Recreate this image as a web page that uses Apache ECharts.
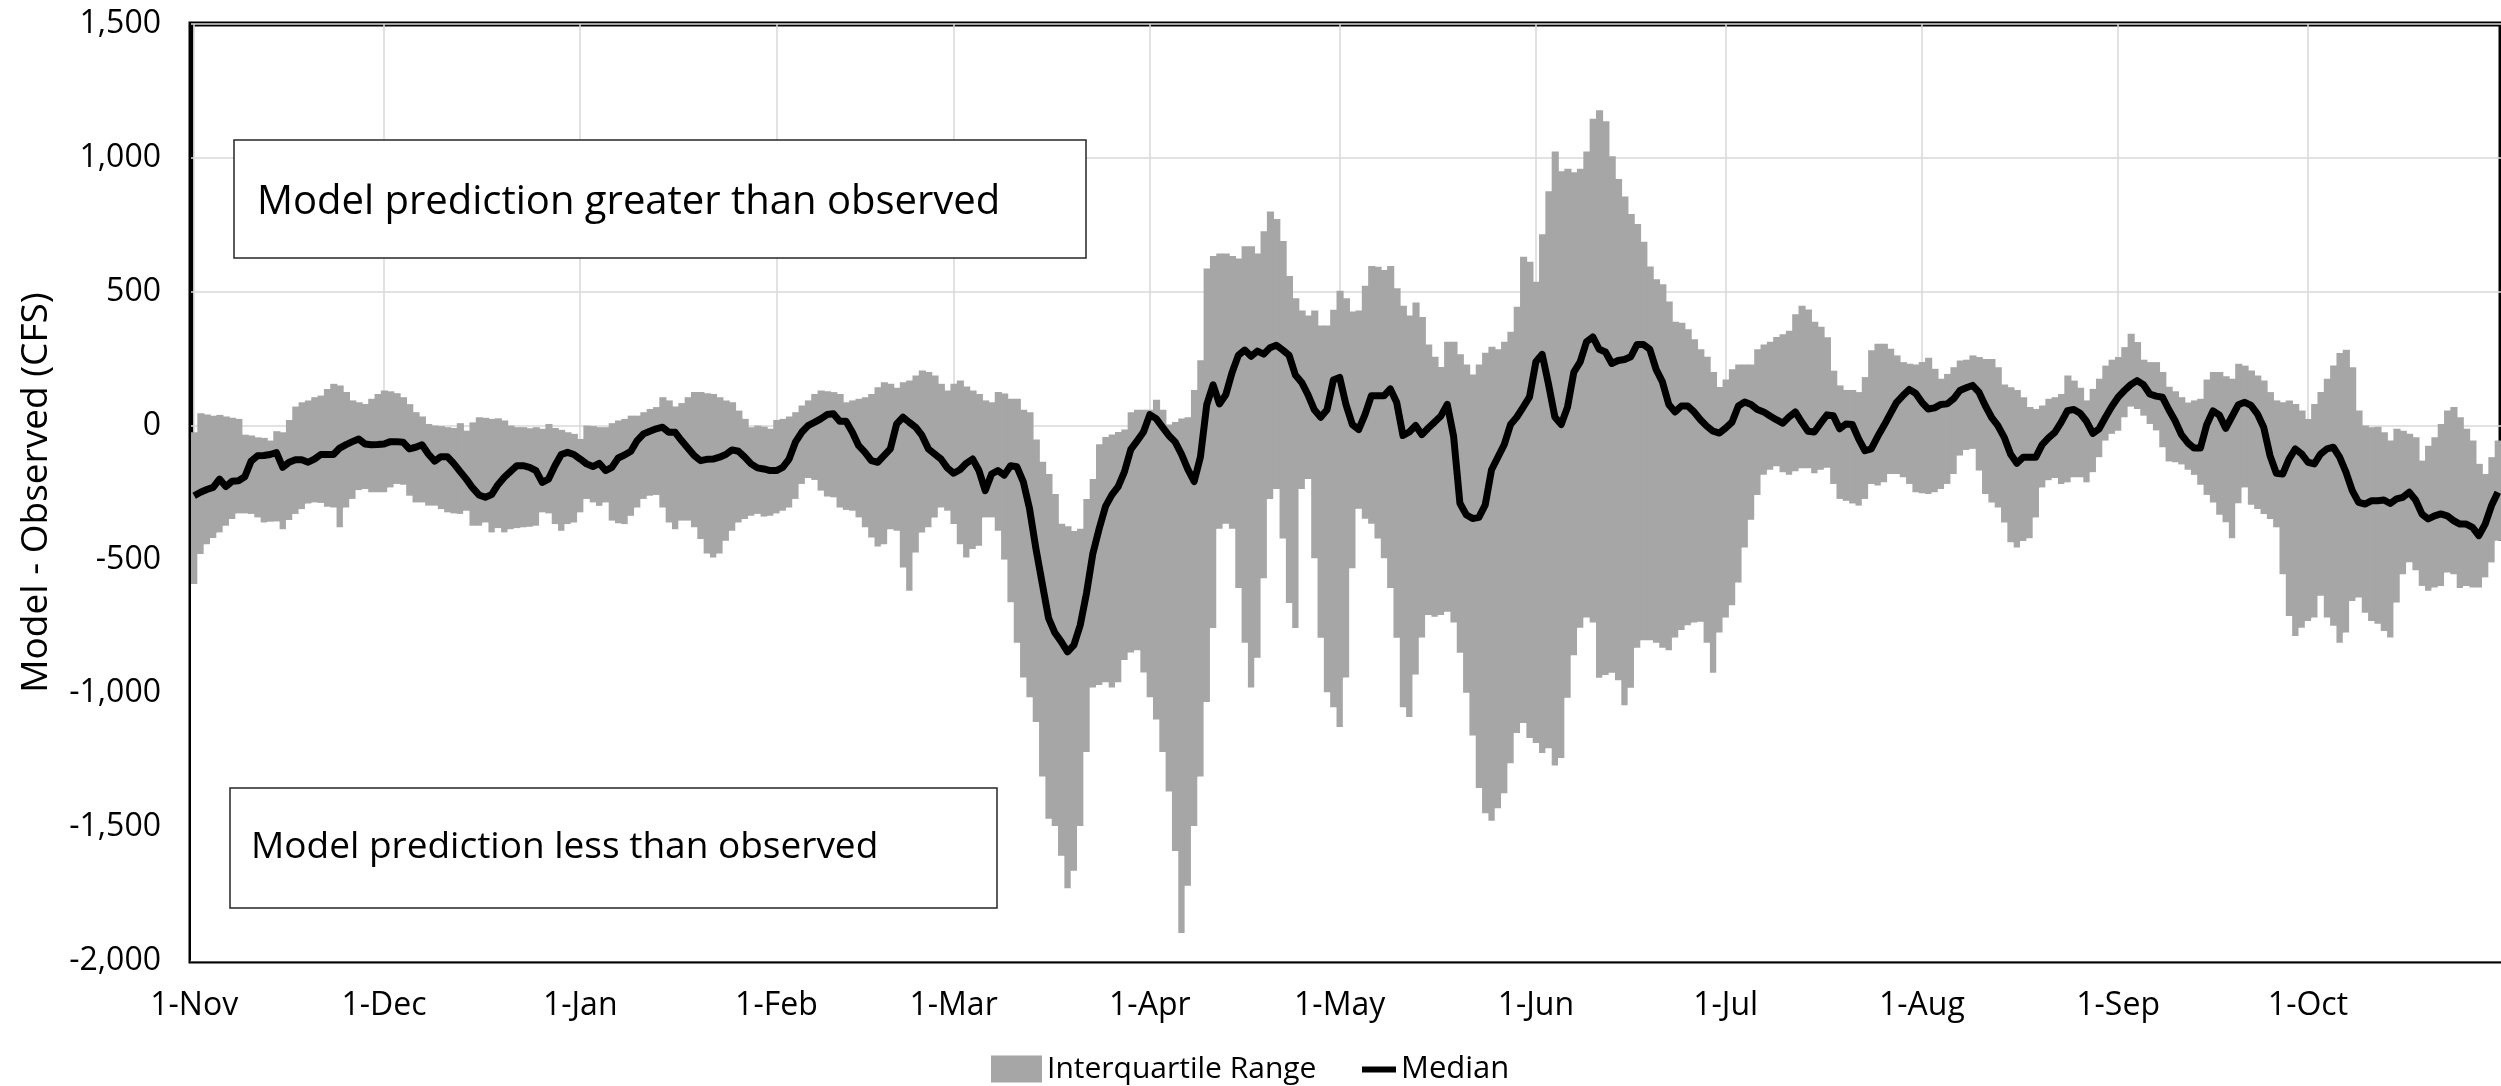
<!DOCTYPE html>
<html>
<head>
<meta charset="utf-8">
<script src="https://cdn.jsdelivr.net/npm/echarts@6/dist/echarts.min.js"></script>
<style>
html,body{margin:0;padding:0;background:#fff;}
#chart{width:2501px;height:1086px;}
</style>
</head>
<body>
<div id="chart"></div>
<script>
// ---- categories ----
const monthNames = ['Nov','Dec','Jan','Feb','Mar','Apr','May','Jun','Jul','Aug','Sep','Oct'];
const monthLengths = [30,31,31,28,31,30,31,30,31,31,30,31];
const dayLabels = [];
monthNames.forEach(function (m, k) {
  for (let d = 1; d <= monthLengths[k]; d++) dayLabels.push(d + '-' + m);
});

// ---- series values (CFS), one per day from 1-Nov to 31-Oct ----
const upperQuartile = [
  -25, 46, 41, 37, 40, 34, 29, 25, -34, -37,
  -44, -46, -56, -21, -25, 21, 71, 87, 94, 106,
  112, 137, 156, 150, 125, 94, 87, 81, 100, 118,
  131, 128, 121, 106, 80, 50, 34, 6, 0, -2,
  -6, -9, 9, -19, 12, 31, 29, 25, 27, 19,
  0, -6, -6, -10, -6, -12, 6, -9, -16, -25,
  -31, -50, 0, -2, -6, -6, 9, 19, 25, 37,
  37, 50, 62, 69, 106, 94, 71, 84, 106, 125,
  125, 121, 118, 106, 94, 87, 56, 25, -6, 0,
  -4, -12, 21, 25, 34, 50, 75, 94, 118, 131,
  128, 125, 118, 87, 94, 100, 106, 118, 143, 162,
  156, 141, 162, 168, 187, 206, 200, 187, 156, 131,
  156, 168, 146, 131, 118, 94, 87, 125, 120, 100,
  100, 59, 50, -52, -135, -181, -256, -367, -376, -394,
  -385, -274, -200, -70, -43, -33, -24, -15, 50, 59,
  59, 59, 96, 59, 4, 13, 26, 31, 133, 244,
  587, 633, 643, 643, 633, 624, 670, 670, 643, 726,
  800, 772, 689, 559, 476, 430, 411, 430, 374, 374,
  433, 504, 476, 426, 430, 522, 596, 593, 581, 596,
  513, 448, 411, 460, 406, 303, 257, 219, 313, 313,
  266, 228, 191, 228, 272, 294, 285, 313, 350, 444,
  631, 612, 537, 715, 875, 1024, 950, 959, 946, 959,
  1024, 1146, 1178, 1137, 1006, 921, 856, 790, 753, 687,
  594, 547, 528, 463, 388, 384, 360, 322, 285, 257,
  200, 144, 172, 210, 228, 228, 228, 285, 303, 313,
  331, 341, 354, 416, 448, 434, 388, 369, 330, 205,
  150, 133, 133, 125, 181, 281, 306, 306, 287, 262,
  237, 231, 228, 237, 253, 212, 175, 193, 218, 243,
  246, 262, 256, 249, 249, 218, 153, 143, 133, 106,
  69, 62, 75, 100, 106, 118, 187, 168, 141, 94,
  137, 175, 224, 246, 256, 293, 343, 312, 246, 237,
  237, 200, 145, 128, 106, 86, 94, 100, 172, 200,
  200, 184, 175, 231, 224, 206, 187, 168, 125, 94,
  87, 94, 81, 56, 25, 81, 125, 175, 224, 271,
  283, 218, 56, 0, -6, -4, -25, -56, -12, -19,
  -31, -44, -131, -75, -44, 6, 56, 69, 31, -12,
  -56, -143, -181, -118, -56
];
const lowerQuartile = [
  -592, -480, -443, -420, -399, -374, -349, -328, -328, -330,
  -343, -362, -359, -358, -387, -353, -330, -312, -291, -287,
  -289, -303, -306, -380, -306, -274, -241, -237, -249, -249,
  -249, -231, -218, -221, -262, -287, -287, -299, -299, -312,
  -324, -328, -330, -318, -374, -374, -362, -399, -383, -399,
  -387, -383, -380, -378, -374, -324, -328, -368, -393, -368,
  -362, -324, -274, -287, -300, -287, -355, -365, -368, -337,
  -306, -274, -262, -259, -306, -362, -387, -355, -355, -380,
  -424, -478, -493, -478, -430, -393, -362, -349, -337, -330,
  -340, -337, -328, -318, -306, -274, -218, -196, -203, -243,
  -265, -268, -306, -315, -318, -343, -380, -418, -452, -443,
  -387, -393, -530, -617, -474, -399, -380, -343, -306, -318,
  -368, -443, -493, -461, -449, -343, -343, -393, -500, -660,
  -811, -941, -1015, -1107, -1311, -1469, -1496, -1607, -1728, -1663,
  -1496, -1219, -978, -969, -959, -978, -959, -876, -848, -839,
  -922, -1015, -1098, -1219, -1367, -1589, -1895, -1719, -1496, -1311,
  -1033, -756, -385, -367, -385, -607, -811, -978, -867, -570,
  -274, -237, -422, -663, -756, -237, -200, -496, -793, -996,
  -1052, -1126, -941, -533, -311, -348, -367, -422, -496, -607,
  -793, -1052, -1089, -930, -792, -708, -714, -708, -695, -736,
  -849, -998, -1158, -1354, -1448, -1476, -1429, -1373, -1261, -1148,
  -1111, -1167, -1186, -1223, -1205, -1270, -1242, -1017, -858, -755,
  -717, -736, -942, -932, -923, -951, -1045, -979, -830, -802,
  -802, -811, -830, -839, -792, -764, -746, -736, -733, -811,
  -923, -773, -717, -671, -586, -455, -352, -259, -184, -165,
  -152, -174, -184, -171, -159, -159, -178, -165, -158, -218,
  -274, -281, -291, -299, -274, -218, -224, -212, -181, -181,
  -193, -218, -249, -253, -256, -249, -237, -218, -181, -112,
  -91, -87, -168, -256, -287, -306, -362, -436, -455, -431,
  -421, -343, -231, -204, -196, -218, -212, -193, -193, -212,
  -174, -118, -56, -31, -19, 31, 71, 62, 37, 6,
  -18, -81, -134, -137, -145, -165, -184, -221, -259, -287,
  -333, -361, -421, -290, -231, -296, -312, -330, -349, -380,
  -555, -711, -786, -755, -730, -717, -636, -717, -748, -811,
  -773, -655, -642, -699, -730, -740, -767, -792, -661, -555,
  -511, -540, -599, -617, -605, -599, -549, -555, -607, -599,
  -605, -605, -567, -511, -430
];
const median = [
  -262, -249, -239, -231, -200, -228, -208, -206, -191, -133,
  -113, -112, -108, -101, -156, -137, -128, -128, -137, -125,
  -108, -108, -108, -84, -71, -60, -50, -69, -72, -71,
  -69, -60, -60, -62, -87, -81, -72, -106, -133, -116,
  -116, -141, -171, -200, -233, -259, -268, -258, -221, -193,
  -171, -150, -150, -156, -168, -212, -200, -150, -108, -100,
  -108, -125, -143, -153, -141, -168, -156, -121, -110, -96,
  -56, -31, -21, -12, -6, -25, -25, -56, -84, -112,
  -131, -126, -125, -118, -108, -91, -96, -118, -143, -158,
  -162, -168, -168, -156, -125, -62, -25, 0, 12, 25,
  41, 44, 16, 16, -25, -75, -100, -131, -137, -112,
  -87, 6, 31, 12, -6, -37, -87, -106, -125, -158,
  -178, -165, -141, -125, -168, -243, -181, -168, -185, -150,
  -154, -209, -311, -459, -589, -719, -774, -807, -845, -820,
  -746, -626, -478, -385, -302, -259, -228, -172, -89, -57,
  -24, 41, 26, -6, -37, -61, -107, -163, -209, -117,
  78, 152, 81, 115, 198, 263, 282, 259, 278, 267,
  291, 300, 282, 263, 189, 161, 115, 59, 31, 59,
  170, 180, 78, 4, -15, 41, 111, 111, 111, 137,
  87, -37, -24, 0, -34, -9, 13, 36, 79, -40,
  -290, -333, -347, -343, -296, -165, -118, -71, 4, 32,
  69, 107, 238, 266, 154, 32, 4, 69, 200, 238,
  313, 331, 285, 275, 232, 243, 247, 257, 303, 303,
  285, 210, 163, 79, 51, 73, 73, 51, 22, -2,
  -21, -28, -9, 13, 73, 88, 79, 60, 51, 36,
  22, 9, 32, 51, 13, -21, -24, 9, 40, 37,
  -12, 6, 4, -50, -94, -87, -41, 0, 44, 87,
  112, 135, 121, 87, 62, 66, 79, 81, 100, 131,
  141, 150, 125, 75, 31, 0, -44, -106, -141, -118,
  -118, -118, -71, -46, -25, 12, 56, 60, 46, 16,
  -29, -12, 31, 71, 106, 131, 153, 168, 153, 118,
  110, 106, 60, 18, -34, -64, -84, -84, 3, 55,
  39, -10, 34, 78, 87, 75, 44, -6, -112, -178,
  -181, -125, -87, -106, -137, -143, -106, -87, -81, -118,
  -174, -243, -287, -293, -281, -281, -278, -291, -274, -268,
  -249, -278, -330, -349, -337, -330, -337, -355, -368, -368,
  -380, -411, -368, -299, -249
];

// ---- axis / text ----
const yMin = -2000, yMax = 1500, yStep = 500;
const yAxisTitle = 'Model - Observed (CFS)';
const seriesNames = ['Interquartile Range', 'Median'];
const noteAbove = 'Model prediction greater than observed';
const noteBelow = 'Model prediction less than observed';

const FONT = '"Open Sans", "Liberation Sans", sans-serif';
const isMonthStart = function (idx, val) { return String(val).indexOf('1-') === 0; };

const chart = echarts.init(document.getElementById('chart'), null, {renderer: 'canvas'});

const rangeData = dayLabels.map(function (lab, i) { return [i, lowerQuartile[i], upperQuartile[i]]; });

chart.setOption({
  animation: false,
  backgroundColor: '#ffffff',
  grid: {
    left: 191, top: 24, right: -3, bottom: 125,
    show: true, borderColor: '#000000', borderWidth: 5, backgroundColor: 'transparent'
  },
  xAxis: {
    type: 'category',
    data: dayLabels,
    boundaryGap: true,
    axisLine: {show: true, onZero: false, lineStyle: {color: '#595959', width: 2}},
    axisTick: {show: false},
    axisLabel: {interval: isMonthStart, fontSize: 32, fontFamily: FONT, color: '#000', margin: 29},
    splitLine: {show: true, interval: isMonthStart, alignWithLabel: true, lineStyle: {color: '#d9d9d9', width: 1.5}}
  },
  yAxis: {
    type: 'value',
    min: yMin, max: yMax, interval: yStep,
    axisLine: {show: false},
    axisTick: {show: false},
    axisLabel: {
      fontSize: 32, fontFamily: FONT, color: '#000', margin: 30,
      formatter: function (v) { return v.toLocaleString('en-US'); }
    },
    splitLine: {show: true, lineStyle: {color: '#d9d9d9', width: 1.5}},
    name: yAxisTitle,
    nameLocation: 'middle',
    nameGap: 136,
    nameTextStyle: {fontSize: 37, fontFamily: FONT, color: '#000'}
  },
  legend: [
    {
      data: [{name: seriesNames[0], icon: 'rect'}],
      left: 986, top: 1049, itemWidth: 51, itemHeight: 27,
      textStyle: {fontSize: 30, fontFamily: FONT, color: '#000'}
    },
    {
      data: [{name: seriesNames[1], icon: 'path://M0,0H34V6H0Z'}],
      left: 1357, top: 1049, itemWidth: 34, itemHeight: 27,
      textStyle: {fontSize: 31, fontFamily: FONT, color: '#000'}
    }
  ],
  series: [
    {
      name: seriesNames[0],
      type: 'custom',
      z: 2,
      itemStyle: {color: '#a6a6a6'},
      encode: {x: 0, y: [1, 2]},
      data: rangeData,
      renderItem: function (params, api) {
        const i = api.value(0);
        const lo = api.value(1), hi = api.value(2);
        const pBase = api.coord([i, yMin]);
        const pLo = api.coord([i, lo]);
        const pHi = api.coord([i, hi]);
        const w = api.size([1, 0])[0];
        const x = pLo[0] - w / 2;
        return {
          type: 'group',
          children: [
            {type: 'rect', shape: {x: x, y: pLo[1], width: w + 0.8, height: pBase[1] - pLo[1]}, style: {fill: '#ffffff'}},
            {type: 'rect', shape: {x: x, y: pHi[1], width: w + 0.8, height: pLo[1] - pHi[1]}, style: {fill: '#a6a6a6'}}
          ]
        };
      }
    },
    {
      name: seriesNames[1],
      type: 'line',
      z: 3,
      data: median,
      symbol: 'none',
      lineStyle: {color: '#000000', width: 7, join: 'round'},
      itemStyle: {color: '#000000'}
    }
  ],
  graphic: [
    {type: 'rect', z: 10, shape: {x: 234, y: 140, width: 852, height: 118}, style: {fill: '#fff', stroke: '#262626', lineWidth: 1.5}},
    {type: 'text', z: 11, x: 257, y: 203, style: {text: noteAbove, fontSize: 40, fontFamily: FONT, fill: '#000', verticalAlign: 'middle'}},
    {type: 'rect', z: 10, shape: {x: 230, y: 788, width: 767, height: 120}, style: {fill: '#fff', stroke: '#262626', lineWidth: 1.5}},
    {type: 'text', z: 11, x: 251, y: 847, style: {text: noteBelow, fontSize: 37, fontFamily: FONT, fill: '#000', verticalAlign: 'middle'}}
  ]
});
</script>
</body>
</html>
